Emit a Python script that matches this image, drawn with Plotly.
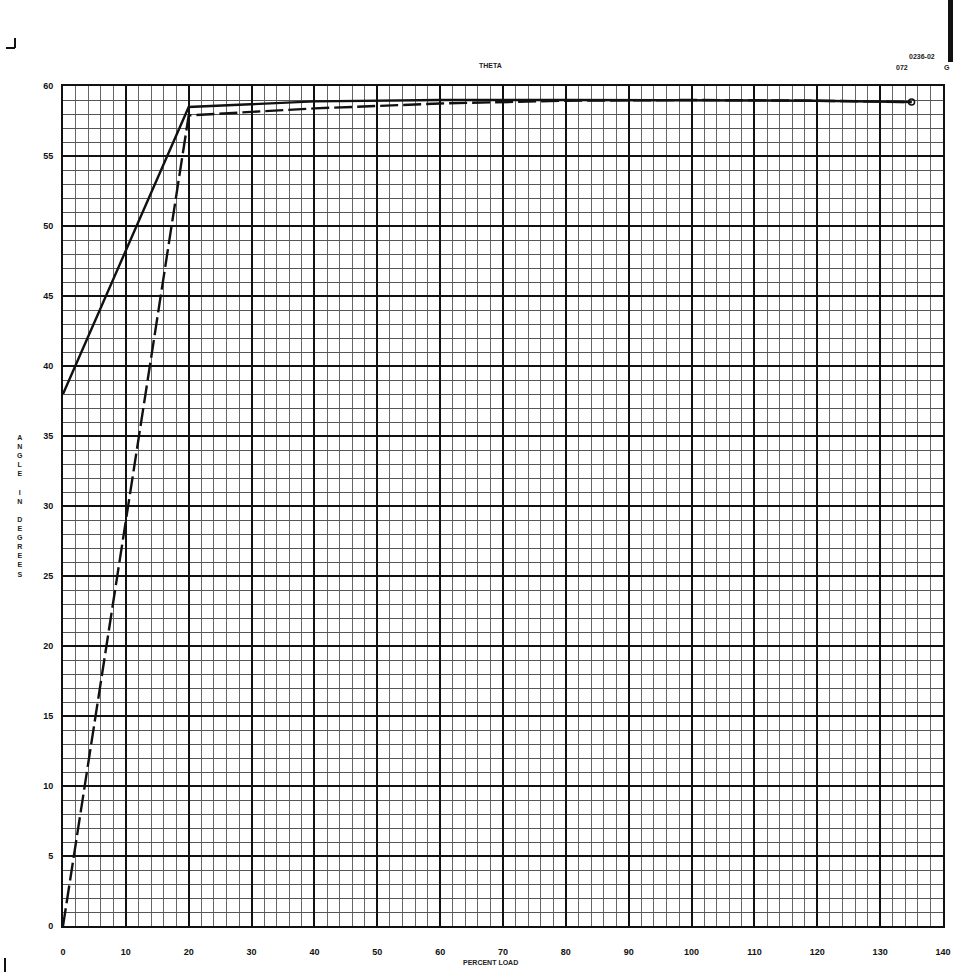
import plotly.graph_objects as go

# ---- data ----
load_pct = [0, 20, 40, 60, 80, 100, 120, 135]
solid_deg = [38.0, 58.5, 58.9, 59.0, 59.0, 59.0, 58.95, 58.85]
dashed_deg = [0.0, 57.9, 58.4, 58.75, 58.95, 59.0, 58.95, 58.85]
x_tick_vals = list(range(0, 141, 10))
y_tick_vals = list(range(0, 61, 5))
title_text = "THETA"
x_title = "PERCENT LOAD"
y_title = "ANGLE IN DEGREES"

W, H = 953, 972
L, R, T, B = 63, 10, 86, 46
pw, ph = W - L - R, H - T - B


def px(xp):
    # reference pixel x -> paper coordinate
    return (xp - L) / pw


def py(yp):
    return (H - B - yp) / ph


fig = go.Figure()
fig.add_trace(go.Scatter(x=load_pct, y=dashed_deg, mode="lines",
                         line=dict(color="#111", width=2.4, dash="18px,5px"),
                         showlegend=False))
fig.add_trace(go.Scatter(x=load_pct, y=solid_deg, mode="lines",
                         line=dict(color="#111", width=2.4),
                         showlegend=False))
fig.add_trace(go.Scatter(x=load_pct[-1:], y=solid_deg[-1:], mode="markers",
                         marker=dict(symbol="circle-open", size=6,
                                     color="#111", line=dict(width=1.5)),
                         showlegend=False))

tickfont = dict(family="Liberation Sans", size=9, color="#111", weight="bold")

fig.update_xaxes(range=[0, 140], tickvals=x_tick_vals,
                 ticktext=[str(v) for v in x_tick_vals],
                 showgrid=True, gridcolor="#111", gridwidth=2,
                 minor=dict(dtick=2, showgrid=True, gridcolor="#666", gridwidth=1),
                 showline=True, linecolor="#111", linewidth=2, mirror=True,
                 zeroline=False, ticks="", tickfont=tickfont,
                 ticklabelstandoff=16, automargin=False)
fig.update_yaxes(range=[0, 60], tickvals=y_tick_vals,
                 ticktext=[str(v) for v in y_tick_vals],
                 showgrid=True, gridcolor="#111", gridwidth=2,
                 minor=dict(dtick=1, showgrid=True, gridcolor="#555", gridwidth=1),
                 showline=True, linecolor="#111", linewidth=2, mirror=True,
                 zeroline=False, ticks="", tickfont=tickfont,
                 ticklabelstandoff=6, automargin=False)

annos = [
    dict(text="<b>" + title_text + "</b>", x=px(490), y=py(65)),
    dict(text="<b>0236-02</b>", x=px(922), y=py(57)),
    dict(text="<b>072</b>", x=px(902), y=py(67)),
    dict(text="<b>G</b>", x=px(942), y=py(67), xanchor="left"),
    dict(text="<b>" + x_title + "</b>", x=px(490), y=py(962)),
    dict(text="<b>" + "<br>".join(list(y_title.replace(" ", "  ")))
         .replace("<br> <br>", "<br>") + "</b>",
         x=px(20), y=py(506)),
]
for a in annos:
    a.setdefault("xanchor", "center")
    fig.add_annotation(xref="paper", yref="paper", showarrow=False,
                       yanchor="middle", font=dict(family="Liberation Sans",
                                                   size=7, color="#222"), **a)

# scan corner marks
shapes = [
    dict(x0=px(15), x1=px(15), y0=py(38), y1=py(48)),
    dict(x0=px(6), x1=px(15), y0=py(48), y1=py(48)),
    dict(x0=px(5), x1=px(5), y0=py(958), y1=py(972)),
]
for s in shapes:
    fig.add_shape(type="line", xref="paper", yref="paper",
                  line=dict(color="#111", width=2), **s)
fig.add_shape(type="rect", xref="paper", yref="paper", x0=px(948), x1=px(953),
              y0=py(0), y1=py(62), fillcolor="#111", line=dict(width=0))

fig.update_layout(width=W, height=H,
                  margin=dict(l=L, r=R, t=T, b=B, autoexpand=False),
                  paper_bgcolor="white", plot_bgcolor="white",
                  showlegend=False)
fig.write_html("out.html",
               config={"displayModeBar": False},
               post_script="document.body.style.margin='0';"
                           "document.body.style.overflow='hidden';")
